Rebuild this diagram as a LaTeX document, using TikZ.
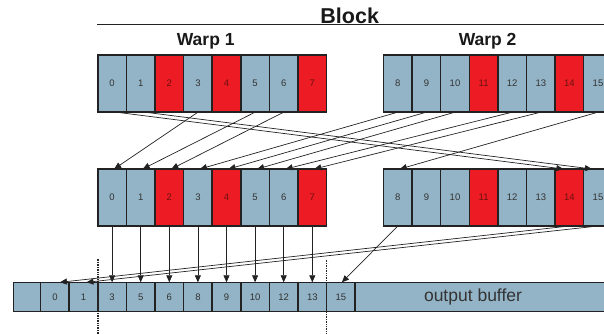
\documentclass[tikz,border=0pt]{standalone}
\usepackage{fontspec}
\setmainfont{Liberation Sans}
\usetikzlibrary{arrows.meta}

\definecolor{cellblue}{HTML}{93B4C6}
\definecolor{cellred}{HTML}{ED1C24}
\definecolor{edge}{HTML}{222222}
\definecolor{numgray}{HTML}{333333}
\definecolor{numred}{HTML}{6A1010}

\begin{document}
\begin{tikzpicture}[x=1pt,y=-1pt,
  cell/.style={draw=edge, line width=1.5pt, minimum width=28.6pt,
    minimum height=57pt, inner sep=0pt, outer sep=0pt,
    font=\fontsize{9.5}{9.5}\selectfont},
  plain/.style={cell, fill=cellblue, text=numgray},
  hot/.style={cell, fill=cellred, text=numred},
  ocell/.style={draw=edge, line width=1.5pt, fill=cellblue, text=numgray,
    minimum width=28.6pt, minimum height=29.4pt, inner sep=0pt, outer sep=0pt,
    font=\fontsize{9.5}{9.5}\selectfont},
  title/.style={font=\bfseries\fontsize{21.5}{22}\selectfont, text=black!90, inner sep=0pt},
  warptitle/.style={font=\bfseries\fontsize{17.5}{18}\selectfont, text=black!90, inner sep=0pt},
  link/.style={draw=edge, line width=0.7pt, -{Triangle[length=7pt,width=6pt]}},
  divider/.style={draw=black!85, line width=1.5pt, dash pattern=on 1pt off 0.7pt},
]
\useasboundingbox (0,0) rectangle (604,333);
\clip (0,0) rectangle (604,333);

% headings
\node[title, anchor=base] (block) at (349.7,23.5) {Block};
\coordinate (blkL) at (97.3,24);
\coordinate (blkR) at (604,24);
\draw[draw=edge, line width=1pt] (blkL) -- (blkR);
\node[warptitle, anchor=base] (w1) at (205.7,45) {Warp 1};
\node[warptitle, anchor=base] (w2) at (487.6,45) {Warp 2};

% input rows (T) and shuffled rows (M)
\foreach \i/\s in {0/plain,1/plain,2/hot,3/plain,4/hot,5/plain,6/plain,7/hot}{
  \node[\s] (T\i) at (112.1+28.6*\i, 83.65) {\i};
  \node[\s] (M\i) at (112.1+28.6*\i, 197.5) {\i};
}
\foreach \i/\s in {8/plain,9/plain,10/plain,11/hot,12/plain,13/plain,14/hot,15/plain}{
  \node[\s] (T\i) at (397.8+28.6*\i-228.8, 83.65) {\i};
  \node[\s] (M\i) at (397.8+28.6*\i-228.8, 197.5) {\i};
}

% output buffer
\node[ocell, minimum width=27.3pt] (Oblank) at (26.95,297) {};
\foreach \v [count=\k from 0] in {0,1,3,5,6,8,9,10,12,13,15}{
  \node[ocell] (O\v) at (54.9+28.6*\k, 297) {\v};
}
\node[ocell, minimum width=270pt, anchor=west] (buf) at (O15.east) {};
\node[font=\fontsize{17.5}{18}\selectfont, text=numgray, inner sep=0pt] (buflabel) at (473,297) {output buffer};

% warp boundaries
\coordinate (d1a) at (98.2,258.5);
\coordinate (d1b) at (98.2,334);
\coordinate (d2a) at (326.6,259.5);
\coordinate (d2b) at (326.6,334);
\draw[divider] (d1a) -- (d1b);
\draw[divider] (d2a) -- (d2b);

% shuffle: input -> staging
\foreach \a/\b in {3/0,5/1,6/2,8/3,9/4,10/5,12/6,13/7,15/8}{
  \draw[link] (T\a.south) -- ([xshift=2pt]M\b.north);
}
\draw[link] ([xshift=4pt]T0.south) -- ([xshift=-6pt]M14.north);
\draw[link] ([xshift=4pt]T1.south) -- ([xshift=-6pt]M15.north);

% staging -> output buffer
\foreach \a/\b in {0/3,1/5,2/6,3/8,4/9,5/10,6/12,7/13}{
  \draw[link] (M\a.south) -- (O\b.north);
}
\draw[link] (M8.south) -- ([xshift=1pt]O15.north);
\draw[link] (M14.south) -- ([xshift=5pt]O0.north);
\draw[link] (M15.south) -- ([xshift=3pt]O1.north);
\end{tikzpicture}
\end{document}
